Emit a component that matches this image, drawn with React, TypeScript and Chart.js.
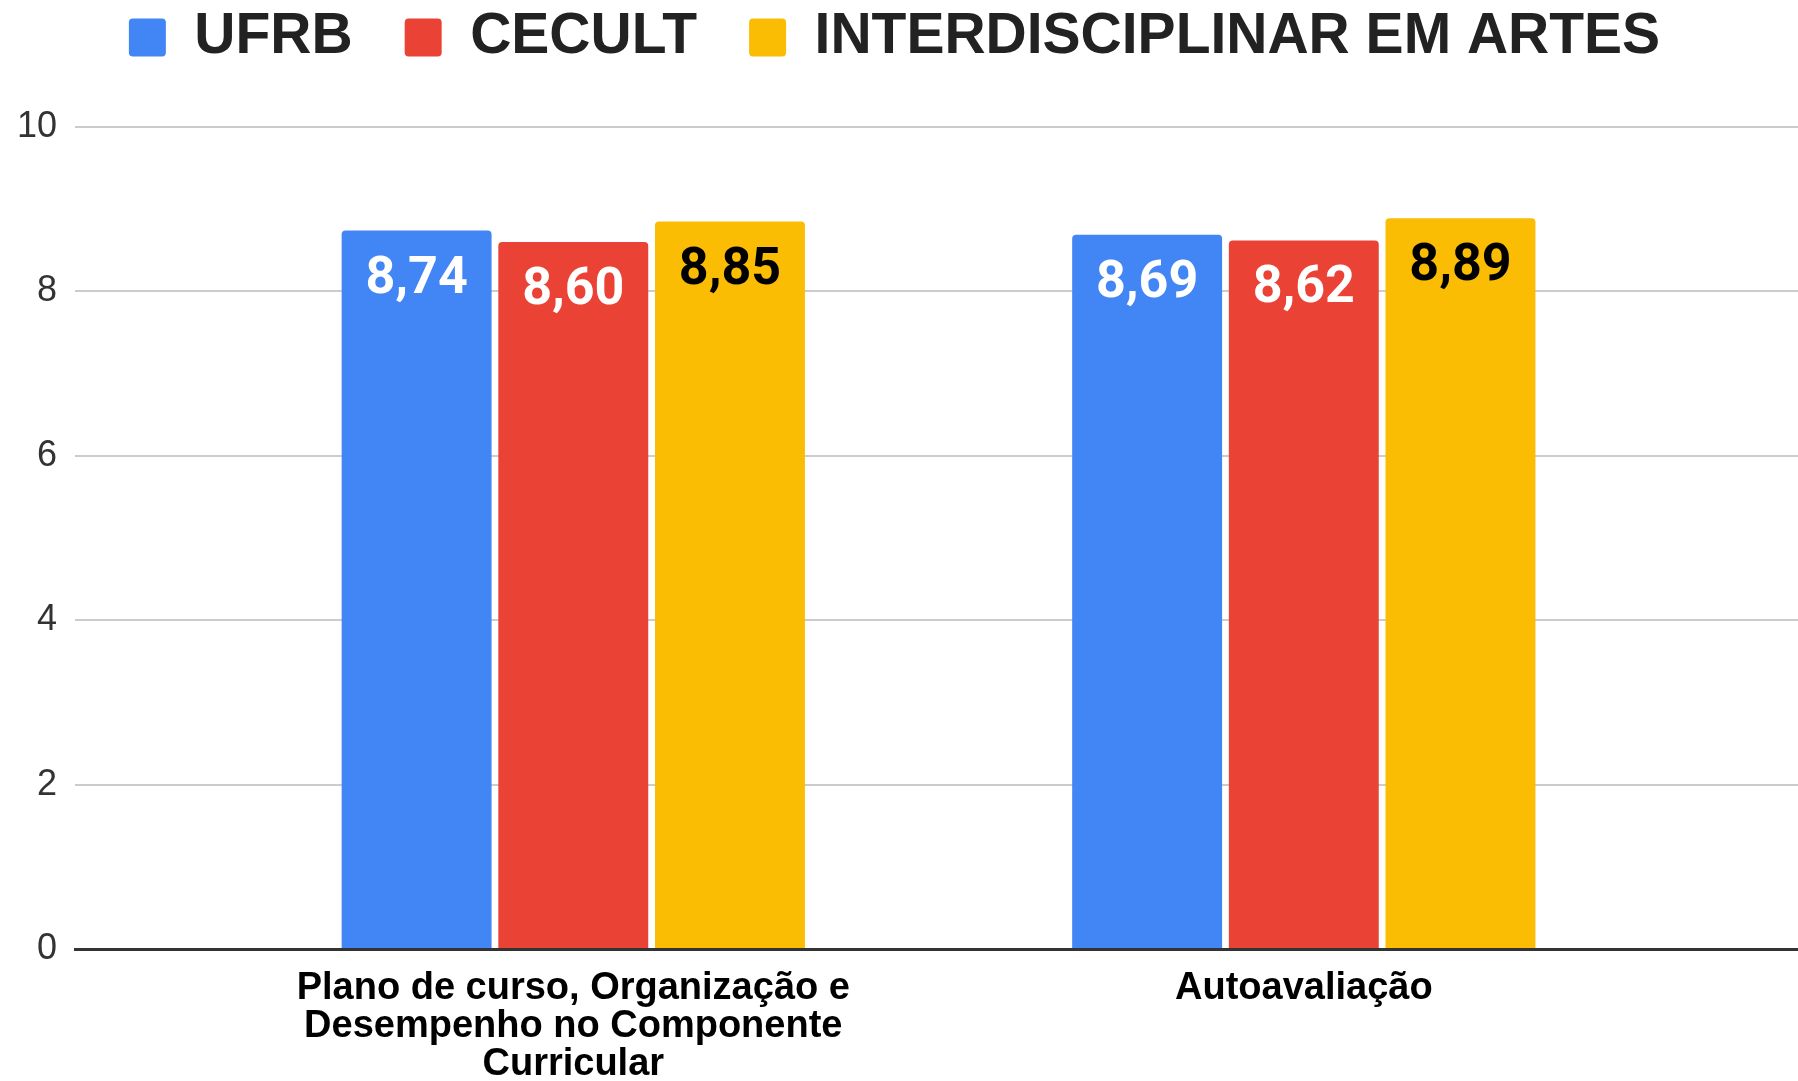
import React, { useEffect, useRef } from 'react';
import { Chart, registerables } from 'chart.js';

Chart.register(...registerables);

// ---- data ----
const categories: string[][] = [
  ['Plano de curso, Organização e', 'Desempenho no Componente', 'Curricular'],
  ['Autoavaliação'],
];
const seriesNames: string[] = ['UFRB', 'CECULT', 'INTERDISCIPLINAR EM ARTES'];
const ufrbValues: number[] = [8.74, 8.69];
const cecultValues: number[] = [8.6, 8.62];
const artesValues: number[] = [8.85, 8.89];
const seriesValues: number[][] = [ufrbValues, cecultValues, artesValues];
const yTickValues: number[] = [0, 2, 4, 6, 8, 10];

// ---- styles ----
const seriesColors = ['#4285F4', '#EA4335', '#FBBC04'];
const valueLabelColors = ['#ffffff', '#ffffff', '#000000'];
const SANS = '"Liberation Sans", Arial, sans-serif';

const barValueLabels = {
  id: 'barValueLabels',
  afterDatasetsDraw(chart: any) {
    const ctx = chart.ctx;
    ctx.save();
    ctx.font = 'bold 52px Roboto, "Liberation Sans", sans-serif';
    ctx.textAlign = 'center';
    ctx.textBaseline = 'middle';
    chart.data.datasets.forEach((_ds: any, di: number) => {
      const meta = chart.getDatasetMeta(di);
      meta.data.forEach((el: any, i: number) => {
        const v = seriesValues[di][i];
        ctx.fillStyle = valueLabelColors[di];
        ctx.fillText(v.toFixed(2).replace('.', ','), el.x, el.y + 49);
      });
    });
    ctx.restore();
  },
};

const legendSpacing = {
  id: 'legendSpacing',
  beforeInit(chart: any) {
    const legend = chart.legend;
    if (!legend) return;
    const origFit = legend.fit;
    legend.fit = function () {
      origFit.call(this);
      this.height += 51;
    };
  },
};

export default function App() {
  const canvasRef = useRef<HTMLCanvasElement | null>(null);

  useEffect(() => {
    if (!canvasRef.current) return;
    const chart = new Chart(canvasRef.current, {
      type: 'bar',
      data: {
        datasets: seriesNames.map((name, di) => ({
          label: name,
          data: seriesValues[di].map((v, i) => ({ x: i, y: v })),
          backgroundColor: seriesColors[di],
          borderWidth: 0,
          borderRadius: { topLeft: 4, topRight: 4, bottomLeft: 0, bottomRight: 0 },
          borderSkipped: 'start',
          barPercentage: 0.957,
          categoryPercentage: 0.6434,
        })),
      },
      options: {
        responsive: false,
        animation: false,
        events: [],
        layout: { padding: { top: -43, left: -9, right: 0, bottom: -24 } },
        plugins: {
          tooltip: { enabled: false },
          legend: {
            position: 'top',
            align: 'center',
            labels: {
              boxWidth: 37,
              boxHeight: 38,
              padding: 52,
              color: '#222222',
              useBorderRadius: true,
              borderRadius: 4,
              font: { family: SANS, size: 57, weight: 'bold' },
            },
          },
        },
        scales: {
          x: {
            type: 'linear',
            offset: false,
            min: -0.6821,
            max: 1.6765,
            afterBuildTicks: (axis: any) => {
              axis.ticks = categories.map((_c, i) => ({ value: i }));
            },
            ticks: {
              autoSkip: false,
              maxRotation: 0,
              minRotation: 0,
              padding: 21,
              color: '#000000',
              font: { family: SANS, size: 38, weight: 'bold', lineHeight: 1 },
              callback: (value: any) => categories[value as number] ?? '',
            },
            grid: { display: false, drawTicks: false },
            border: { display: true, color: '#333333', width: 3 },
          },
          y: {
            min: 0,
            max: 10,
            afterBuildTicks: (axis: any) => {
              axis.ticks = yTickValues.map((v) => ({ value: v }));
            },
            afterFit: (scale: any) => {
              scale.width = 84;
            },
            ticks: {
              padding: 18,
              color: '#333333',
              font: { family: SANS, size: 36 },
              callback: (value: any) => String(value),
            },
            grid: { color: '#cccccc', lineWidth: 2, drawTicks: false },
            border: { display: false },
          },
        },
      },
      plugins: [barValueLabels, legendSpacing],
    } as any);
    return () => chart.destroy();
  }, []);

  return (
    <div style={{ position: 'fixed', left: 0, top: 0, width: 1798, height: 1081, background: '#ffffff' }}>
      <canvas ref={canvasRef} width={1798} height={1081} style={{ display: 'block' }} />
    </div>
  );
}
